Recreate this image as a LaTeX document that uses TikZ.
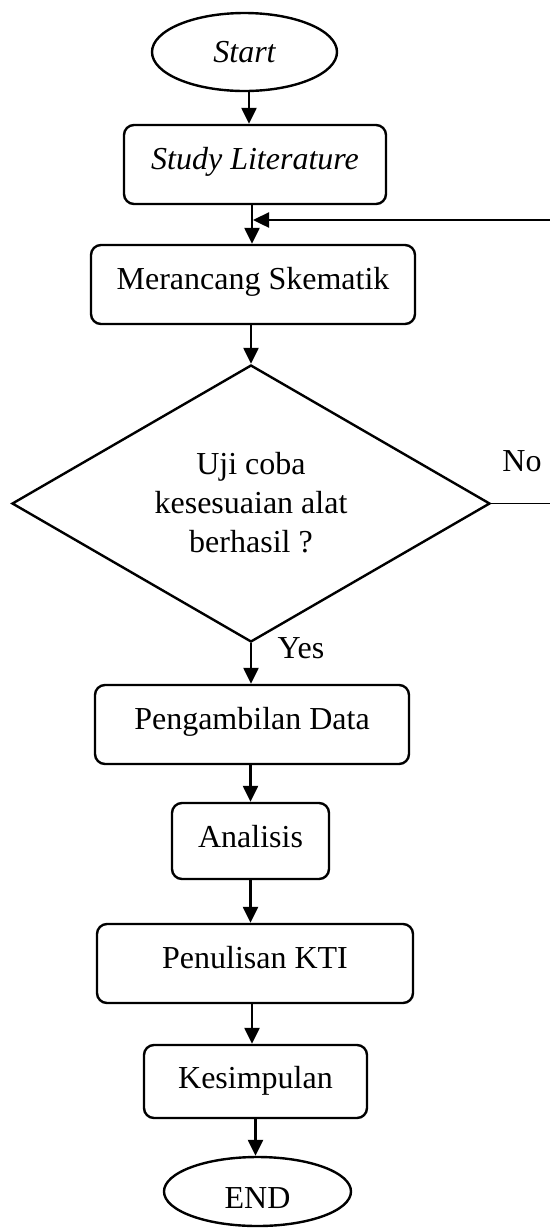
\documentclass[tikz,border=0pt]{standalone}
\usepackage{fontspec}
\setmainfont{Liberation Serif}
\usetikzlibrary{shapes.geometric,arrows.meta}
\begin{document}
\begin{tikzpicture}[x=0.5pt,y=-0.5pt,
  every node/.style={font=\fontsize{16pt}{19.5pt}\selectfont},
  box/.style={draw,line width=1.2pt,rounded corners=5pt,inner sep=0pt,
              text height=22pt,text depth=17.5pt,minimum height=39.5pt},
  term/.style={draw,line width=1.2pt,ellipse,inner sep=0pt},
  arr/.style={line width=1.2pt,-{Triangle[length=8pt,width=7.5pt]}},
  thin line/.style={line width=0.6pt},
]
\useasboundingbox (0,0) rectangle (550,1228);
\clip (0,0) rectangle (550,1228);

% nodes
\node[term,minimum width=92.5pt,minimum height=39pt] (start) at (244.5,52) {\itshape Start};
\node[box,minimum width=131pt] (study) at (255,164.5) {\itshape Study Literature};
\node[box,minimum width=162pt] (merancang) at (253,284.5) {Merancang Skematik};
\node[draw,diamond,line width=1.2pt,minimum width=239pt,minimum height=138.5pt,inner sep=0pt] (dia) at (251,503.5) {};
\node[align=center] (dtext) at (251,503) {Uji coba\\kesesuaian alat\\berhasil ?};
\node[box,minimum width=157pt] (peng) at (252,724.5) {Pengambilan Data};
\node[box,minimum width=78.5pt,text depth=16pt,minimum height=38pt] (analisis) at (250.5,841) {Analisis};
\node[box,minimum width=158pt] (penulisan) at (255,963.5) {Penulisan KTI};
\node[box,minimum width=111.5pt,text height=21.5pt,text depth=15pt,minimum height=36.5pt] (kes) at (255.5,1081.5) {Kesimpulan};
\node[term,minimum width=93.5pt,minimum height=34.5pt,text height=16.6pt,text depth=0pt] (end) at (257.5,1191.5) {END};

\node (yes) at (301,648) {Yes};
\node (no) at (522,461) {No};

% connectors
\draw[arr] ([xshift=2.25pt]start.south) -- ([xshift=2.25pt]start.south |- study.north);
\draw[arr] ([xshift=-1.5pt]study.south) -- ([xshift=-1.5pt]study.south |- merancang.north);
\draw[arr] (dia.north |- merancang.south) -- (dia.north);
\draw[arr] (dia.south) -- (dia.south |- peng.north);
\draw[arr] (analisis.north |- peng.south) -- (analisis.north);
\draw[arr] (analisis.south) -- (analisis.south |- penulisan.north);
\draw[arr] ([xshift=-1.5pt]penulisan.south) -- ([xshift=-1.5pt]penulisan.south |- kes.north);
\draw[arr] (kes.south) -- (kes.south |- end.north);

% feedback loop (No)
\coordinate (fbr) at (565,503.5);
\coordinate (fbt) at (565,220);
\coordinate (join) at (253,220);
\draw[thin line] (dia.east) -- (fbr) -- (fbt);
\draw[arr] (fbt) -- (join);
\end{tikzpicture}
\end{document}
